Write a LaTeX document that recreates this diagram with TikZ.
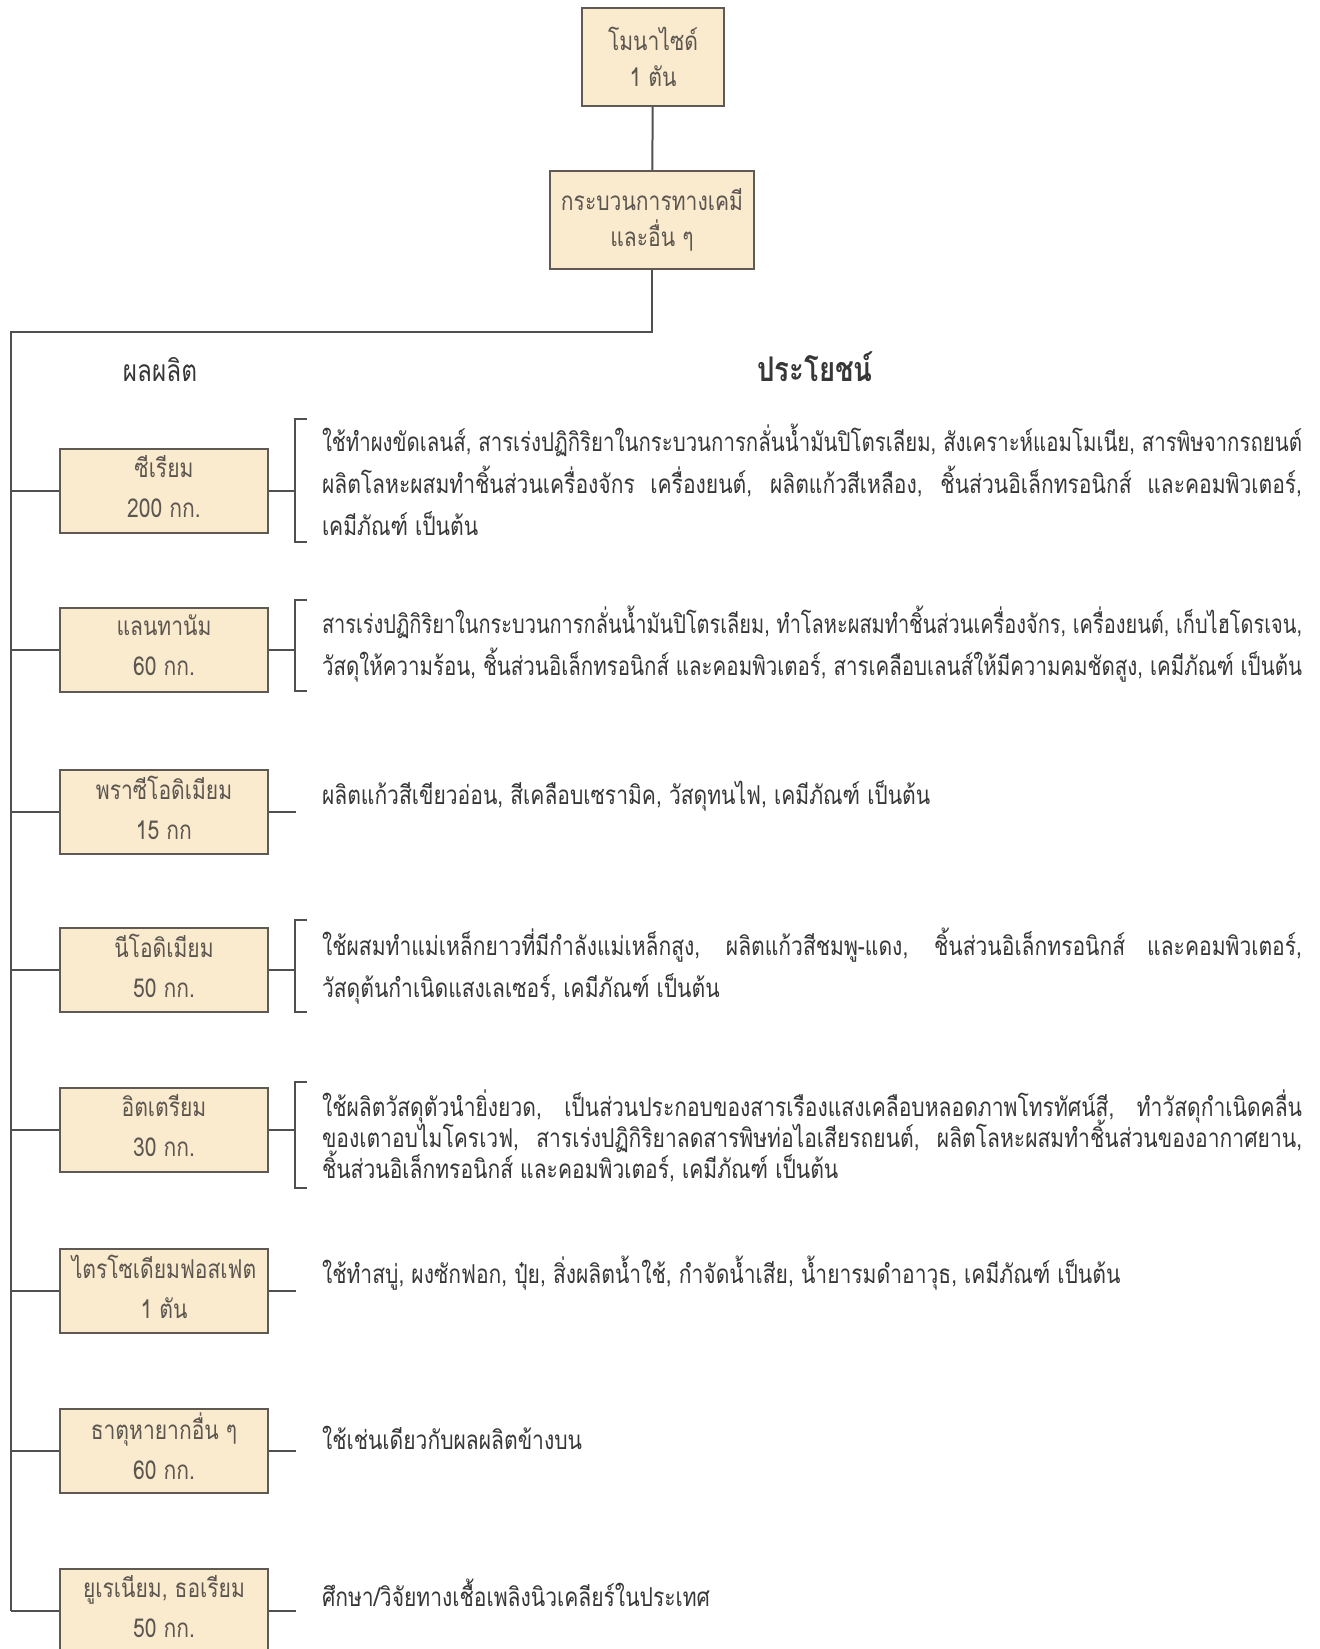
\documentclass[tikz,border=0pt]{standalone}
\usepackage{graphicx}
\usepackage{fontspec}
\newfontfamily\thaifont[Script=Thai,FakeStretch=0.81]{Loma}
\definecolor{boxfill}{RGB}{250,234,206}
\definecolor{boxline}{RGB}{95,90,84}
\definecolor{linkgray}{RGB}{80,80,80}
\definecolor{inkgray}{RGB}{55,55,55}
\definecolor{boxink}{RGB}{92,86,80}
\newsavebox{\linebox}
\newcommand{\jline}[1]{\sbox{\linebox}{#1}%
    \ifdim\wd\linebox>490pt\resizebox{490pt}{\height}{\usebox{\linebox}}\else\makebox[490pt][s]{#1}\fi}
\newcommand{\tightlines}{\lineskiplimit=-20pt\relax}

\begin{document}
\begin{tikzpicture}[x=0.5pt, y=-0.5pt, line width=1pt,
    topbox/.style={draw=boxline, fill=boxfill, minimum height=49pt, inner sep=0pt, align=center, text=boxink, font=\thaifont\fontsize{13}{18}\selectfont},
    prodbox/.style={topbox, minimum width=104pt, minimum height=42pt, font=\thaifont\fontsize{13}{20}\selectfont,
        execute at end node={\rule[-4.5pt]{0pt}{0pt}}},
    usetext/.style={anchor=west, align=left, inner sep=0pt, text=inkgray, font=\thaifont\fontsize{13}{21}\selectfont},
    head/.style={text=inkgray, font=\thaifont\fontsize{15}{18}\selectfont},
    link/.style={draw=linkgray}]
    \useasboundingbox (0,0) rectangle (1320,1649);

    \node[topbox, minimum width=71pt] (monazite) at (653,57) {โมนาไซด์\\1 ตัน};
    \node[topbox, minimum width=102pt] (chem) at (652,220) {กระบวนการทางเคมี\\และอื่น ๆ};

    \node[head] (prodhead) at (160,370) {ผลผลิต};
    \node[head, font=\thaifont\bfseries\fontsize{17}{20}\selectfont] (usehead) at (815,367) {ประโยชน์};

    \node[prodbox] (ce) at (164,491) {ซีเรียม\\200 กก.};
    \node[prodbox] (la) at (164,650) {แลนทานัม\\60 กก.};
    \node[prodbox] (pr) at (164,812) {พราซีโอดิเมียม\\15 กก};
    \node[prodbox] (nd) at (164,970) {นีโอดิเมียม\\50 กก.};
    \node[prodbox] (yt) at (164,1130) {อิตเตรียม\\30 กก.};
    \node[prodbox] (tsp) at (164,1291) {ไตรโซเดียมฟอสเฟต\\1 ตัน};
    \node[prodbox] (rest) at (164,1451) {ธาตุหายากอื่น ๆ\\60 กก.};
    \node[prodbox] (uth) at (164,1611) {ยูเรเนียม, ธอเรียม\\50 กก.};

    \coordinate (trunk) at (11,332);
    \draw[link] (monazite) -- (chem);
    \draw[link] (chem.south) |- (trunk) -- (trunk |- uth.west);
    \foreach \p in {ce,la,pr,nd,yt,tsp,rest,uth}{
        \draw[link] (trunk |- \p.west) -- (\p.west);
        \draw[link] (\p.east) -- ++(27,0) coordinate (\p-end);
    }

    \draw[link] (307,419) -- (295,419) -- (295,542) -- (307,542);
    \draw[link] (307,600) -- (295,600) -- (295,691) -- (307,691);
    \draw[link] (307,920) -- (295,920) -- (295,1012) -- (307,1012);
    \draw[link] (307,1082) -- (295,1082) -- (295,1188) -- (307,1188);

    \node[usetext] (ceuse) at (321,480) {\jline{ใช้ทำผงขัดเลนส์, สารเร่งปฏิกิริยาในกระบวนการกลั่นน้ำมันปิโตรเลียม, สังเคราะห์แอมโมเนีย, สารพิษจากรถยนต์}\\
        \jline{ผลิตโลหะผสมทำชิ้นส่วนเครื่องจักร เครื่องยนต์, ผลิตแก้วสีเหลือง, ชิ้นส่วนอิเล็กทรอนิกส์ และคอมพิวเตอร์,}\\
        เคมีภัณฑ์ เป็นต้น};
    \node[usetext] (lause) at (321,644) {\jline{สารเร่งปฏิกิริยาในกระบวนการกลั่นน้ำมันปิโตรเลียม, ทำโลหะผสมทำชิ้นส่วนเครื่องจักร, เครื่องยนต์, เก็บไฮโดรเจน,}\\
        \jline{วัสดุให้ความร้อน, ชิ้นส่วนอิเล็กทรอนิกส์ และคอมพิวเตอร์, สารเคลือบเลนส์ให้มีความคมชัดสูง, เคมีภัณฑ์ เป็นต้น}};
    \node[usetext] (pruse) at (321,796) {ผลิตแก้วสีเขียวอ่อน, สีเคลือบเซรามิค, วัสดุทนไฟ, เคมีภัณฑ์ เป็นต้น};
    \node[usetext] (nduse) at (321,966) {\jline{ใช้ผสมทำแม่เหล็กยาวที่มีกำลังแม่เหล็กสูง, ผลิตแก้วสีชมพู-แดง, ชิ้นส่วนอิเล็กทรอนิกส์ และคอมพิวเตอร์,}\\
        วัสดุต้นกำเนิดแสงเลเซอร์, เคมีภัณฑ์ เป็นต้น};
    \node[usetext, font=\thaifont\fontsize{13}{15.4}\selectfont\tightlines] (ytuse) at (321,1136) {\jline{ใช้ผลิตวัสดุตัวนำยิ่งยวด, เป็นส่วนประกอบของสารเรืองแสงเคลือบหลอดภาพโทรทัศน์สี, ทำวัสดุกำเนิดคลื่น}\\
        \jline{ของเตาอบไมโครเวฟ, สารเร่งปฏิกิริยาลดสารพิษท่อไอเสียรถยนต์, ผลิตโลหะผสมทำชิ้นส่วนของอากาศยาน,}\\
        ชิ้นส่วนอิเล็กทรอนิกส์ และคอมพิวเตอร์, เคมีภัณฑ์ เป็นต้น};
    \node[usetext] (tspuse) at (321,1273) {ใช้ทำสบู่, ผงซักฟอก, ปุ๋ย, สิ่งผลิตน้ำใช้, กำจัดน้ำเสีย, น้ำยารมดำอาวุธ, เคมีภัณฑ์ เป็นต้น};
    \node[usetext] (restuse) at (321,1438) {ใช้เช่นเดียวกับผลผลิตข้างบน};
    \node[usetext] (uthuse) at (321,1593) {ศึกษา/วิจัยทางเชื้อเพลิงนิวเคลียร์ในประเทศ};
\end{tikzpicture}
\end{document}
